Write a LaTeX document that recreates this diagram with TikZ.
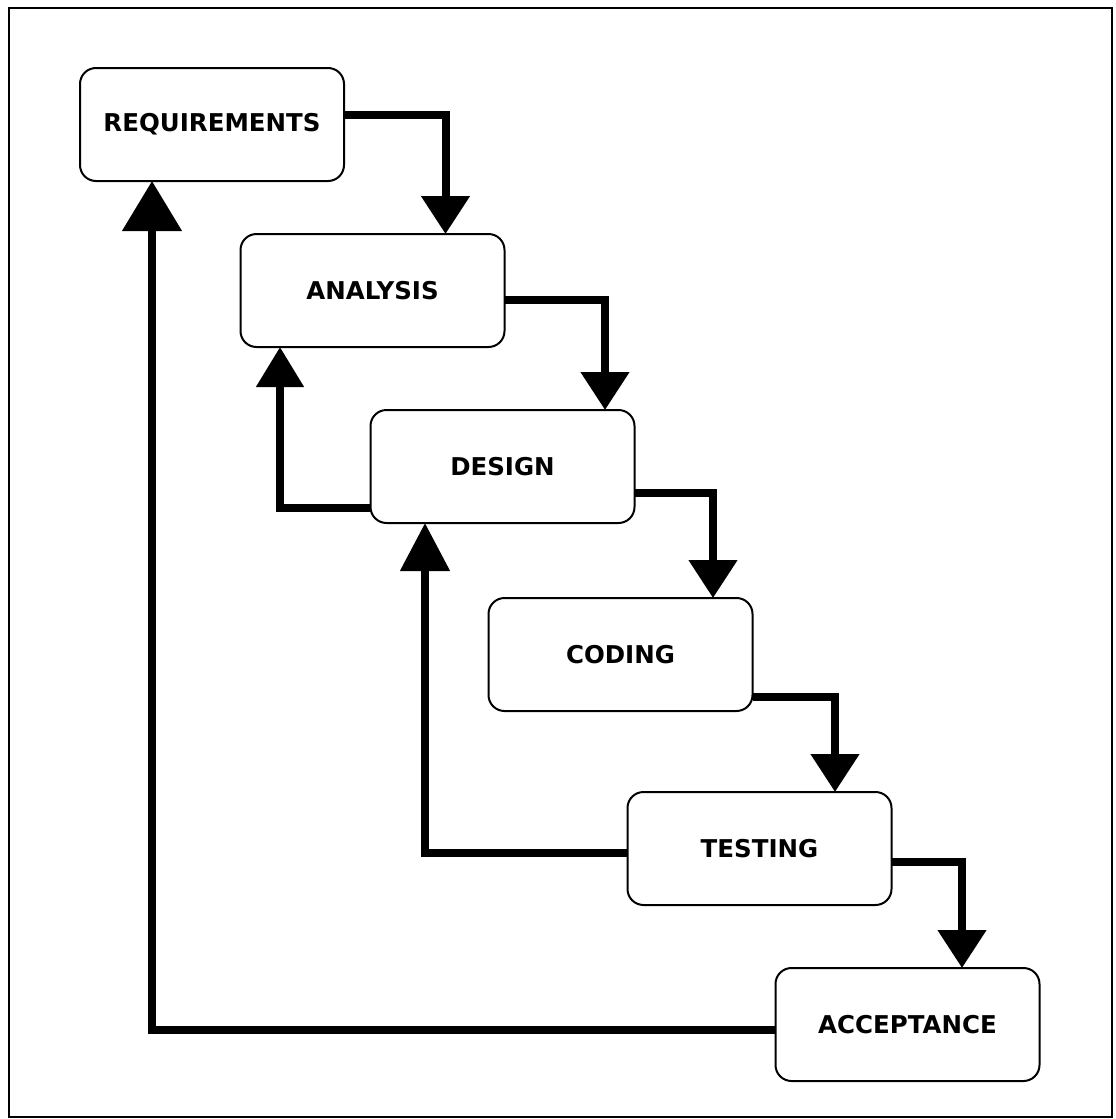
\documentclass[tikz,border=0pt]{standalone}
\usepackage{fontspec}
\setmainfont{DejaVu Sans}
\usetikzlibrary{arrows.meta}
\begin{document}
\begin{tikzpicture}[x=1pt,y=-1pt,
  stage/.style={draw, line width=2pt, rounded corners=16pt, minimum width=264pt,
    minimum height=113pt, inner sep=0pt, outer sep=0pt,
    font=\fontsize{24.5}{28}\selectfont\bfseries},
  flow/.style={line width=8pt, -{Triangle[length=38pt,width=47pt]}},
  backflow/.style={line width=8pt, -{Triangle[length=48pt,width=48pt]}}]
\useasboundingbox (0,0) rectangle (1116,1119);
\draw[line width=2.5pt] (9,8) rectangle (1112,1117);

\node[stage] (req) at (212,124.5) {REQUIREMENTS};
\node[stage] (ana) at (372.5,290.5) {ANALYSIS};
\node[stage] (des) at (502.5,466.5) {DESIGN};
\node[stage] (cod) at (620.5,654.5) {CODING};
\node[stage] (tes) at (759.5,848.5) {TESTING};
\node[stage] (acc) at (907.5,1024.5) {ACCEPTANCE};

\draw[flow] ([yshift=9.5pt]req.east) -| ([xshift=73pt]ana.north);
\draw[flow] ([yshift=-9.5pt]ana.east) -| ([xshift=102.5pt]des.north);
\draw[flow] ([yshift=-26.5pt]des.east) -| ([xshift=92.5pt]cod.north);
\draw[flow] ([yshift=-42.5pt]cod.east) -| ([xshift=75.5pt]tes.north);
\draw[flow] ([yshift=-13.5pt]tes.east) -| ([xshift=54.5pt]acc.north);

\draw[line width=8pt, -{Triangle[length=40pt,width=46pt]}] ([yshift=-41.5pt]des.west) -| ([xshift=-92.5pt]ana.south);
\draw[backflow] ([yshift=-4.5pt]tes.west) -| ([xshift=-77.5pt]des.south);
\draw[line width=8pt, -{Triangle[length=50pt,width=58pt]}] ([yshift=-5.5pt]acc.west) -| ([xshift=-60pt]req.south);
\end{tikzpicture}
\end{document}
